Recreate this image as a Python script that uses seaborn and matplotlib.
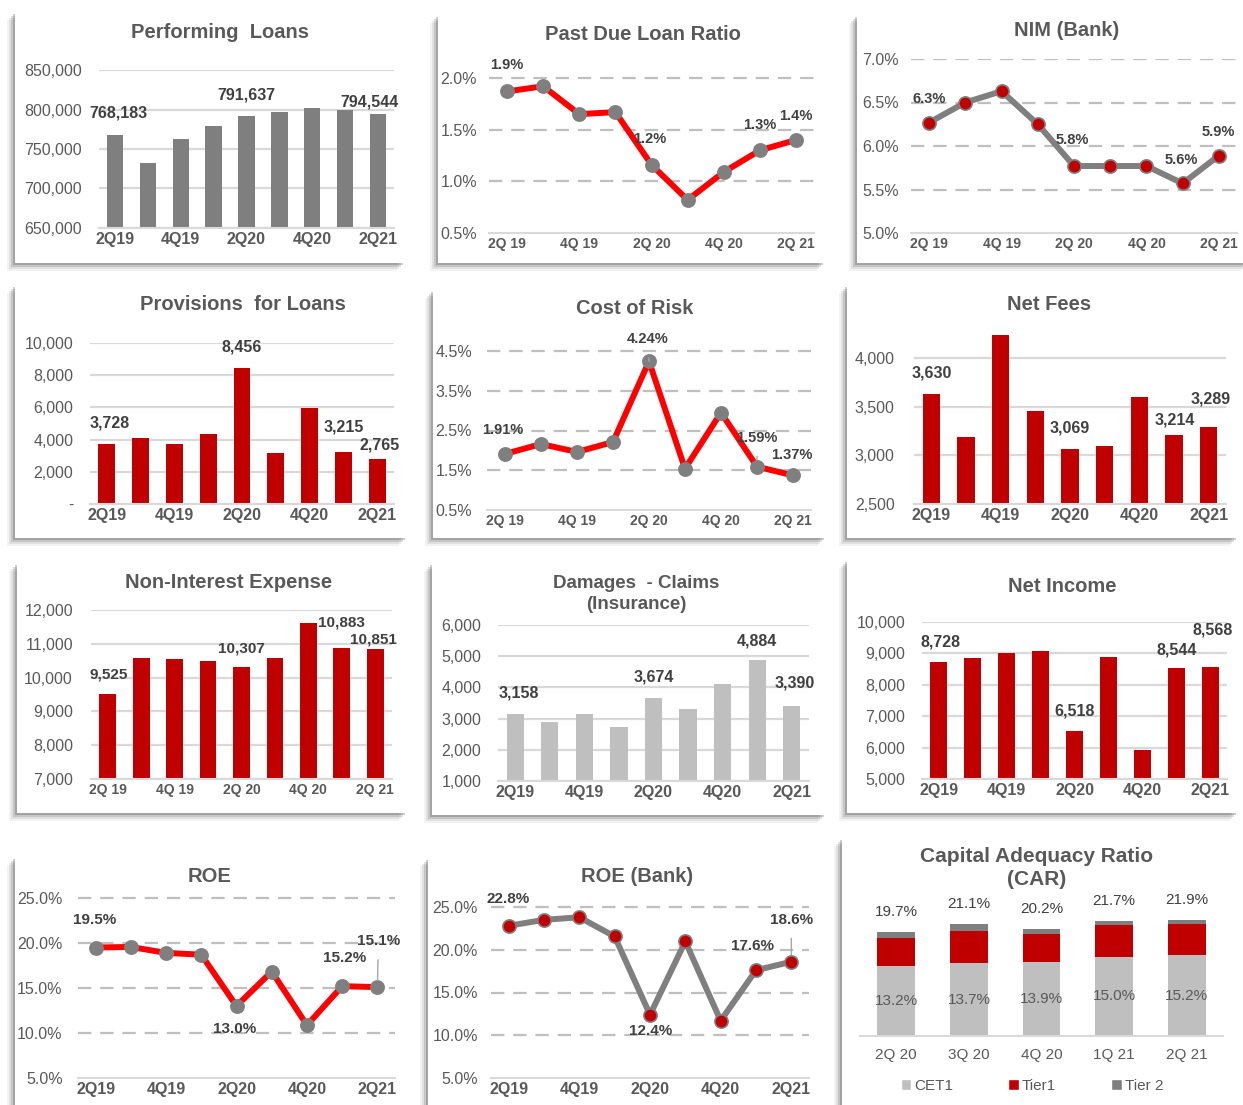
import numpy as np
import pandas as pd
import matplotlib
matplotlib.use("Agg")
import matplotlib.pyplot as plt
from matplotlib.patches import Rectangle, Patch
import seaborn as sns

W, H = 1243, 1105

QUARTERS = ["2Q19", "3Q19", "4Q19", "1Q20", "2Q20", "3Q20", "4Q20", "1Q21", "2Q21"]
TICKS_PLAIN = ["2Q19", "4Q19", "2Q20", "4Q20", "2Q21"]
TICKS_SPACED = ["2Q 19", "4Q 19", "2Q 20", "4Q 20", "2Q 21"]

performing_loans = [768183, 732000, 763000, 779000, 791637, 797000, 802000, 800000, 794544]
past_due_ratio = [1.87, 1.92, 1.65, 1.67, 1.16, 0.82, 1.09, 1.30, 1.40]
nim_bank = [6.27, 6.50, 6.63, 6.25, 5.77, 5.77, 5.77, 5.57, 5.89]
provisions = [3728, 4108, 3734, 4357, 8456, 3153, 5954, 3215, 2765]
cost_of_risk = [1.91, 2.16, 1.96, 2.21, 4.24, 1.54, 2.95, 1.59, 1.37]
net_fees = [3630, 3185, 4236, 3455, 3069, 3092, 3603, 3214, 3289]
non_interest_expense = [9525, 10594, 10545, 10485, 10307, 10594, 11604, 10883, 10851]
damages_claims = [3158, 2902, 3147, 2741, 3674, 3318, 4098, 4884, 3390]
net_income = [8728, 8840, 9000, 9085, 6518, 8883, 5926, 8544, 8568]
roe = [19.5, 19.56, 18.9, 18.7, 13.0, 16.83, 10.87, 15.2, 15.1]
roe_bank = [22.8, 23.5, 23.8, 21.55, 12.4, 20.97, 11.7, 17.6, 18.6]

car_quarters = ["2Q 20", "3Q 20", "4Q 20", "1Q 21", "2Q 21"]
cet1 = [13.2, 13.7, 13.9, 15.0, 15.2]
tier1 = [5.3, 6.2, 5.3, 6.0, 5.9]
tier2 = [1.2, 1.2, 1.0, 0.7, 0.8]

RED_BAR = "#C00000"
RED_LINE = "#FF0000"
GRAY = "#7F7F7F"
LIGHT = "#BFBFBF"
GRID = "#D9D9D9"
TXT = "#595959"
LBL = "#404040"

sns.set_theme(style="white")
plt.rcParams["font.family"] = ["Liberation Sans", "DejaVu Sans"]

fig = plt.figure(figsize=(W / 100, H / 100), dpi=100)
fig.patch.set_facecolor("white")


def card(x0, y0, x1, y1):
    """White card with a soft shadow to the left and below."""
    for off, a in [(8, 0.06), (6, 0.10), (4, 0.16), (2, 0.24)]:
        fig.patches.append(Rectangle(((x0 - off) / W, 1 - (y1 + off) / H), (x1 - x0) / W, (y1 - y0) / H,
                                     transform=fig.transFigure, facecolor="#3a3a3a", alpha=a,
                                     lw=0, zorder=-3))
    fig.patches.append(Rectangle((x0 / W, 1 - y1 / H), (x1 - x0) / W, (y1 - y0) / H,
                                 transform=fig.transFigure, facecolor="white", lw=0, zorder=-2))


def title(x, y, text, size=14.5, weight="bold"):
    fig.text(x / W, 1 - y / H, text, ha="center", va="center", fontsize=size,
             fontweight=weight, color=TXT, linespacing=1.3)


def make_axes(x0, x1, pa, pb, ylim):
    (ya, va), (yb, vb) = pa, pb
    scale = (ya - yb) / (vb - va)
    ybot = ya + (va - ylim[0]) * scale
    ytop = ya - (ylim[1] - va) * scale
    ax = fig.add_axes([x0 / W, 1 - ybot / H, (x1 - x0) / W, (ybot - ytop) / H])
    ax.set_facecolor("none")
    return ax


def style_axes(ax, ylim, yticks, yfmt, xlabels, ypad, dashed, xsize=11.5):
    ax.set_ylim(*ylim)
    ax.set_xlim(-0.5, 8.5)
    ax.set_yticks(yticks)
    ax.set_yticklabels([yfmt(v) for v in yticks])
    ax.set_xticks([0, 2, 4, 6, 8])
    ax.set_xticklabels(xlabels, fontweight="bold")
    ax.set_xlabel("")
    ax.set_ylabel("")
    for s in ["left", "right", "top"]:
        ax.spines[s].set_visible(False)
    ax.spines["bottom"].set_color(GRID)
    ax.spines["bottom"].set_linewidth(1.5)
    ax.tick_params(axis="y", length=0, pad=ypad, labelsize=11.5, labelcolor=TXT)
    ax.tick_params(axis="x", length=0, pad=3, labelsize=xsize, labelcolor=TXT)
    if dashed:
        for v in yticks[1:]:
            ax.axhline(v, color=LIGHT, lw=1.6, dashes=(6, 4), zorder=0)
        ax.set_xticks([-0.5, 1.5, 3.5, 5.5, 7.5, 8.5], minor=True)
        ax.tick_params(axis="x", which="minor", length=5, width=1.2, color=GRID)
    else:
        ax.yaxis.grid(True, color=GRID, lw=1.6)
        ax.set_axisbelow(True)


def labels(ax, values, spots, fmt, size=11.5, leader=()):
    for i, (dx, dy) in spots.items():
        arrow = None
        if i in leader:
            arrow = dict(arrowstyle="-", color="#A6A6A6", lw=1, shrinkA=6, shrinkB=5)
        ax.annotate(fmt(values[i]), (i, values[i]), xytext=(dx, dy), textcoords="offset pixels",
                    ha="center", va="center", fontsize=size, fontweight="bold", color=LBL,
                    arrowprops=arrow, zorder=5)


def bar_panel(ax, values, color):
    df = pd.DataFrame({"quarter": QUARTERS, "value": values})
    sns.barplot(data=df, x="quarter", y="value", color=color, saturation=1, width=0.5,
                linewidth=0, ax=ax, zorder=2)


def line_panel(ax, values, line_color, face, edge):
    df = pd.DataFrame({"quarter": QUARTERS, "value": values})
    sns.pointplot(data=df, x="quarter", y="value", color=line_color, markers="o",
                  markersize=9.5, linewidth=4.3, markerfacecolor=face, markeredgecolor=edge,
                  markeredgewidth=1.2, errorbar=None, ax=ax, zorder=3)


num = lambda v: f"{v:,.0f}"
pct1 = lambda v: f"{v:.1f}%"
pct2 = lambda v: f"{v:.2f}%"

# ---- Row 1 ----
card(15, 12, 405, 263)
title(220, 33, "Performing  Loans")
ax = make_axes(98.6, 394.4, (228, 650000), (70, 850000), (650000, 850000))
bar_panel(ax, performing_loans, GRAY)
style_axes(ax, (650000, 850000), np.arange(650000, 850001, 50000), num, TICKS_PLAIN, 12, False)
labels(ax, performing_loans, {0: (3, 22), 4: (0, 21), 8: (-8, 12)}, num)

card(438, 15, 825, 263)
title(643, 35, "Past Due Loan Ratio")
ax = make_axes(489, 814, (233, 0.5), (78, 2.0), (0.5, 2.2))
line_panel(ax, past_due_ratio, RED_LINE, GRAY, GRAY)
style_axes(ax, (0.5, 2.2), [0.5, 1.0, 1.5, 2.0], pct1, TICKS_SPACED, 8.6, True, xsize=10)
labels(ax, past_due_ratio, {0: (0, 26), 4: (-2, 26), 7: (0, 25), 8: (0, 24)}, pct1, size=10.5)

card(857, 15, 1250, 263)
title(1067, 31, "NIM (Bank)")
ax = make_axes(911, 1237, (233, 5.0), (59, 7.0), (5.0, 7.0))
line_panel(ax, nim_bank, GRAY, RED_BAR, GRAY)
style_axes(ax, (5.0, 7.0), [5.0, 5.5, 6.0, 6.5, 7.0], pct1, TICKS_SPACED, 8.6, True, xsize=10)
labels(ax, nim_bank, {0: (0, 24), 4: (-2, 26), 7: (-1, 23), 8: (-1, 24)}, pct1, size=10.5)

# ---- Row 2 ----
card(15, 285, 407, 538)
title(243, 305, "Provisions  for Loans")
ax = make_axes(90, 394, (504, 0), (343, 10000), (0, 10000))
bar_panel(ax, provisions, RED_BAR)
style_axes(ax, (0, 10000), np.arange(0, 10001, 2000), lambda v: "-" if v == 0 else num(v),
           TICKS_PLAIN, 12, False)
labels(ax, provisions, {0: (3, 21), 4: (0, 21), 7: (0, 25), 8: (3, 14)}, num)

card(433, 290, 826, 538)
title(635, 308, "Cost of Risk")
ax = make_axes(487, 811, (510, 0.5), (351, 4.5), (0.5, 4.6))
line_panel(ax, cost_of_risk, RED_LINE, GRAY, GRAY)
style_axes(ax, (0.5, 4.6), [0.5, 1.5, 2.5, 3.5, 4.5], pct1, TICKS_SPACED, 10.8, True, xsize=10)
labels(ax, cost_of_risk, {0: (-2, 24), 4: (-1, 22), 7: (0, 29), 8: (-1, 20)}, pct2,
       size=10.5, leader=(4, 7))

card(847, 285, 1238, 538)
title(1049, 305, "Net Fees")
ax = make_axes(914, 1226, (504, 2500), (358, 4000), (2500, 4250))
bar_panel(ax, net_fees, RED_BAR)
style_axes(ax, (2500, 4250), [2500, 3000, 3500, 4000], num, TICKS_PLAIN, 14, False)
labels(ax, net_fees, {0: (0, 21), 4: (0, 21), 7: (1, 15), 8: (2, 28)}, num)

# ---- Row 3 ----
card(17, 563, 407, 813)
title(229, 582, "Non-Interest Expense")
ax = make_axes(91, 392, (779, 7000), (610, 12000), (7000, 12000))
bar_panel(ax, non_interest_expense, RED_BAR)
style_axes(ax, (7000, 12000), np.arange(7000, 12001, 1000), num,
           TICKS_SPACED, 13, False, xsize=10)
labels(ax, non_interest_expense, {0: (1, 19), 4: (0, 19), 7: (0, 25), 8: (-2, 9)}, num,
       size=11)

card(432, 563, 826, 815)
title(636, 594, "Damages  - Claims\n(Insurance)", size=13.5)
ax = make_axes(498, 809, (781, 1000), (625, 6000), (1000, 6000))
bar_panel(ax, damages_claims, LIGHT)
style_axes(ax, (1000, 6000), np.arange(1000, 6001, 1000), num, TICKS_PLAIN, 12, False)
labels(ax, damages_claims, {0: (3, 21), 4: (0, 21), 7: (0, 19), 8: (3, 23)}, num)

card(847, 560, 1238, 813)
title(1062, 587, "Net Income")
ax = make_axes(922, 1227, (779, 5000), (622, 10000), (5000, 10000))
bar_panel(ax, net_income, RED_BAR)
style_axes(ax, (5000, 10000), np.arange(5000, 10001, 1000), num, TICKS_PLAIN, 12, False)
labels(ax, net_income, {0: (2, 20), 4: (0, 20), 7: (1, 18), 8: (3, 37)}, num)

# ---- Row 4 ----
card(15, 857, 402, 1115)
title(210, 876, "ROE")
ax = make_axes(78, 395, (1078, 5), (898, 25), (5, 25.5))
line_panel(ax, roe, RED_LINE, GRAY, GRAY)
style_axes(ax, (5, 25.5), [5, 10, 15, 20, 25], pct1, TICKS_PLAIN, 11, True)
ax.set_xticks([], minor=True)
labels(ax, roe, {0: (-1, 28), 4: (-2, -23), 7: (2, 28), 8: (1, 46)}, pct1, size=11,
       leader=(8,))

card(428, 858, 818, 1115)
title(637, 877, "ROE (Bank)")
ax = make_axes(491, 809, (1078, 5), (907, 25), (5, 26.5))
line_panel(ax, roe_bank, GRAY, RED_BAR, GRAY)
style_axes(ax, (5, 26.5), [5, 10, 15, 20, 25], pct1, TICKS_PLAIN, 9.4, True)
ax.set_xticks([], minor=True)
labels(ax, roe_bank, {0: (-1, 27), 4: (1, -16), 7: (-4, 24), 8: (0, 42)}, pct1, size=11,
       leader=(8,))

# ---- Capital adequacy (stacked) ----
card(842, 838, 1235, 1115)
title(1037, 868, "Capital Adequacy Ratio\n(CAR)", size=15)
car = pd.DataFrame({"quarter": car_quarters, "cet1": cet1, "tier1": tier1, "tier2": tier2})
car["upto_tier1"] = car["cet1"] + car["tier1"]
car["total"] = car["upto_tier1"] + car["tier2"]
ax = make_axes(860, 1223, (1036, 0), (930, 20), (0, 27))
sns.barplot(data=car, x="quarter", y="total", color=GRAY, saturation=1, width=0.52,
            linewidth=0, ax=ax)
sns.barplot(data=car, x="quarter", y="upto_tier1", color=RED_BAR, saturation=1, width=0.52,
            linewidth=0, ax=ax)
sns.barplot(data=car, x="quarter", y="cet1", color=LIGHT, saturation=1, width=0.52,
            linewidth=0, ax=ax)
ax.set_ylim(0, 27)
ax.set_xlim(-0.5, 4.5)
ax.set_yticks([])
ax.set_xlabel("")
ax.set_ylabel("")
for s in ["left", "right", "top"]:
    ax.spines[s].set_visible(False)
ax.spines["bottom"].set_color(GRID)
ax.spines["bottom"].set_linewidth(1.5)
ax.tick_params(axis="x", length=0, pad=9, labelsize=11, labelcolor=TXT)
for i, row in car.iterrows():
    ax.annotate(f"{row['total']:.1f}%", (i, row["total"]), xytext=(0, 20),
                textcoords="offset pixels", ha="center", va="center", fontsize=11, color=LBL)
    ax.annotate(f"{row['cet1']:.1f}%", (i, row["cet1"] / 2), ha="center", va="center",
                fontsize=11, color=TXT)
handles = [Patch(facecolor=LIGHT), Patch(facecolor=RED_BAR), Patch(facecolor=GRAY)]
ax.legend(handles, ["CET1", "Tier1", "Tier 2"], loc="center", ncol=3, frameon=False,
          bbox_to_anchor=(1032 / W, 1 - 1086 / H), bbox_transform=fig.transFigure,
          handlelength=0.7, handleheight=0.7, handletextpad=0.2, columnspacing=3.6,
          fontsize=11, labelcolor=TXT)

fig.savefig("out.png", dpi=100)
